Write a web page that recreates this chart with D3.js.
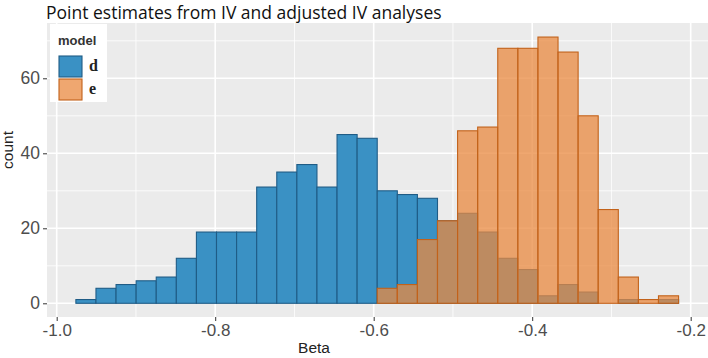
<!DOCTYPE html>
<html>
<head>
<meta charset="utf-8">
<script src="https://cdn.jsdelivr.net/npm/d3@7"></script>
<style>
  body { margin: 0; background: #fff; }
  svg { display: block; }
</style>
</head>
<body>
<div id="chart"></div>
<script>
// histogram bins (30 bins, same edges for both models)
var binStart = -0.9758, binWidth = 0.02535;
var countsD = [1, 4, 5, 6, 7, 12, 19, 19, 19, 31, 35, 37, 31, 45, 44, 30, 29, 28, 22, 24, 19, 12, 9, 2, 5, 3, 0, 1, 0, 1];
var countsE = [0, 0, 0, 0, 0, 0, 0, 0, 0, 0, 0, 0, 0, 0, 0, 4, 5, 17, 22, 46, 47, 68, 68, 71, 67, 50, 25, 7, 1, 2];
var xTicks = [-1.0, -0.8, -0.6, -0.4, -0.2];
var yTicks = [0, 20, 40, 60];
var models = ["d", "e"];

function renderHistogram() {
    var width = 708, height = 358;

    var svg = d3.select("#chart")
        .append("svg")
        .attr("width", width)
        .attr("height", height);

    var panel = { left: 47, right: 712, top: 23, bottom: 317 };

    var xScale = d3.scaleLinear().domain([-1.0, -0.2]).range([56.7, 690.7]);
    var yScale = d3.scaleLinear().domain([0, 60]).range([303.3, 78.3]);

    // panel background
    svg.append("rect")
        .attr("x", panel.left)
        .attr("y", panel.top)
        .attr("width", panel.right - panel.left)
        .attr("height", panel.bottom - panel.top)
        .attr("fill", "#EBEBEB");

    // minor grid
    var xMinor = [-0.9, -0.7, -0.5, -0.3];
    var yMinor = [10, 30, 50, 70];
    svg.selectAll(".xminor").data(xMinor).enter().append("line")
        .attr("x1", d => xScale(d)).attr("x2", d => xScale(d))
        .attr("y1", panel.top).attr("y2", panel.bottom)
        .attr("stroke", "#fff").attr("stroke-width", 0.8);
    svg.selectAll(".yminor").data(yMinor).enter().append("line")
        .attr("x1", panel.left).attr("x2", panel.right)
        .attr("y1", d => yScale(d)).attr("y2", d => yScale(d))
        .attr("stroke", "#fff").attr("stroke-width", 0.8);

    // major grid
    svg.selectAll(".xmajor").data(xTicks).enter().append("line")
        .attr("x1", d => xScale(d)).attr("x2", d => xScale(d))
        .attr("y1", panel.top).attr("y2", panel.bottom)
        .attr("stroke", "#fff").attr("stroke-width", 1.6);
    svg.selectAll(".ymajor").data(yTicks).enter().append("line")
        .attr("x1", panel.left).attr("x2", panel.right)
        .attr("y1", d => yScale(d)).attr("y2", d => yScale(d))
        .attr("stroke", "#fff").attr("stroke-width", 1.6);

    // bars
    function bins(counts) {
        return counts.map(function (c, i) {
            return { x0: binStart + i * binWidth, x1: binStart + (i + 1) * binWidth, count: c };
        });
    }

    svg.selectAll(".barD")
        .data(bins(countsD))
        .enter().append("rect")
        .attr("class", "barD")
        .attr("x", d => xScale(d.x0))
        .attr("y", d => yScale(d.count))
        .attr("width", d => xScale(d.x1) - xScale(d.x0))
        .attr("height", d => yScale(0) - yScale(d.count))
        .attr("fill", "#3A91C4")
        .attr("stroke", "#1F5C86")
        .attr("stroke-width", 1.1);

    svg.selectAll(".barE")
        .data(bins(countsE))
        .enter().append("rect")
        .attr("class", "barE")
        .attr("x", d => xScale(d.x0))
        .attr("y", d => yScale(d.count))
        .attr("width", d => xScale(d.x1) - xScale(d.x0))
        .attr("height", d => yScale(0) - yScale(d.count))
        .attr("fill", "#E98A40")
        .attr("fill-opacity", 0.75)
        .attr("stroke", "#C2621A")
        .attr("stroke-width", 1.1);

    // axes
    var xAxis = svg.append("g")
        .attr("transform", "translate(0," + panel.bottom + ")")
        .call(d3.axisBottom(xScale).tickValues(xTicks).tickSize(4).tickPadding(3));
    xAxis.select(".domain").remove();
    xAxis.selectAll("line").attr("stroke", "#333");
    xAxis.selectAll("text")
        .style("font-family", "Liberation Sans, Arial, sans-serif")
        .style("font-size", "17px")
        .attr("fill", "#4D4D4D")
        .text(d => d3.format(".1f")(d).replace("−", "-"));

    var yAxis = svg.append("g")
        .attr("transform", "translate(" + panel.left + ",0)")
        .call(d3.axisLeft(yScale).tickValues(yTicks).tickSize(4).tickPadding(3));
    yAxis.select(".domain").remove();
    yAxis.selectAll("line").attr("stroke", "#333");
    yAxis.selectAll("text")
        .style("font-family", "Liberation Sans, Arial, sans-serif")
        .style("font-size", "17.5px")
        .attr("fill", "#4D4D4D");

    // axis titles
    svg.append("text")
        .attr("x", 314)
        .attr("y", 353)
        .attr("text-anchor", "middle")
        .style("font-family", "Liberation Sans, Arial, sans-serif")
        .style("font-size", "15.5px")
        .attr("fill", "#222")
        .text("Beta");

    svg.append("text")
        .attr("transform", "translate(13,150)rotate(-90)")
        .attr("text-anchor", "middle")
        .style("font-family", "Liberation Sans, Arial, sans-serif")
        .style("font-size", "15.5px")
        .attr("fill", "#222")
        .text("count");

    // title
    svg.append("text")
        .attr("x", 46)
        .attr("y", 19)
        .style("font-family", "Open Sans, Noto Sans, sans-serif")
        .style("font-size", "17.5px")
        .attr("fill", "#111")
        .text("Point estimates from IV and adjusted IV analyses");

    // legend
    var legend = svg.append("g");
    legend.append("rect")
        .attr("x", 50).attr("y", 24)
        .attr("width", 57).attr("height", 78)
        .attr("fill", "#fff");
    legend.append("text")
        .attr("x", 58).attr("y", 45)
        .style("font-family", "Liberation Sans, Arial, sans-serif")
        .style("font-size", "13px")
        .style("font-weight", "bold")
        .attr("fill", "#333")
        .text("model");

    var keyFill = ["#3A91C4", "#E98A40"], keyStroke = ["#1F5C86", "#C2621A"], keyOpacity = [1, 0.75];
    models.forEach(function (m, i) {
        legend.append("rect")
            .attr("x", 59).attr("y", 56 + i * 23)
            .attr("width", 23).attr("height", 21)
            .attr("fill", keyFill[i])
            .attr("fill-opacity", keyOpacity[i])
            .attr("stroke", keyStroke[i])
            .attr("stroke-width", 1.1);
        legend.append("text")
            .attr("x", 89).attr("y", 71 + i * 23)
            .style("font-family", "Liberation Serif, Times New Roman, serif")
            .style("font-size", "16px")
            .style("font-weight", "bold")
            .attr("fill", "#222")
            .text(m);
    });
}

renderHistogram()
</script>
</body>
</html>
